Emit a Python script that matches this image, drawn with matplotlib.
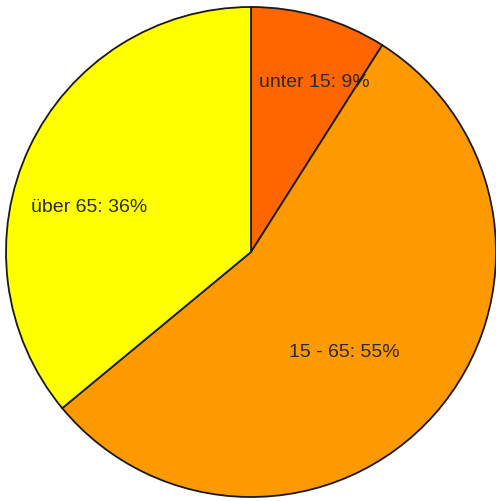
import matplotlib
matplotlib.use("Agg")
import matplotlib.pyplot as plt

# Altersverteilung
labels = ["unter 15", "15 - 65", "über 65"]
shares = [9, 55, 36]
colors = ["#FF6600", "#FF9900", "#FFFF00"]
# label positions inside the pie (data coords, radius = 1)
label_pos = [(0.26, 0.69), (0.38, -0.41), (-0.66, 0.18)]

plt.rcParams['font.family'] = ['Liberation Sans', 'DejaVu Sans']

W, H = 496, 501
fig = plt.figure(figsize=(W / 100, H / 100), dpi=100)
cx, cy, r = 251, 252, 245
ax = fig.add_axes([(cx - r) / W, (H - cy - r) / H, 2 * r / W, 2 * r / H])

ax.pie(shares, colors=colors, startangle=90, counterclock=False,
       wedgeprops=dict(edgecolor="#1a1a1a", linewidth=1.3))
ax.set_xlim(-1, 1)
ax.set_ylim(-1, 1)
ax.set_aspect('auto')
ax.axis('off')

for lab, val, (x, y) in zip(labels, shares, label_pos):
    ax.text(x, y, f"{lab}: {val}%", ha='center', va='center',
            fontsize=14, color="#2a2a2a")

fig.savefig("out.png", dpi=100)
